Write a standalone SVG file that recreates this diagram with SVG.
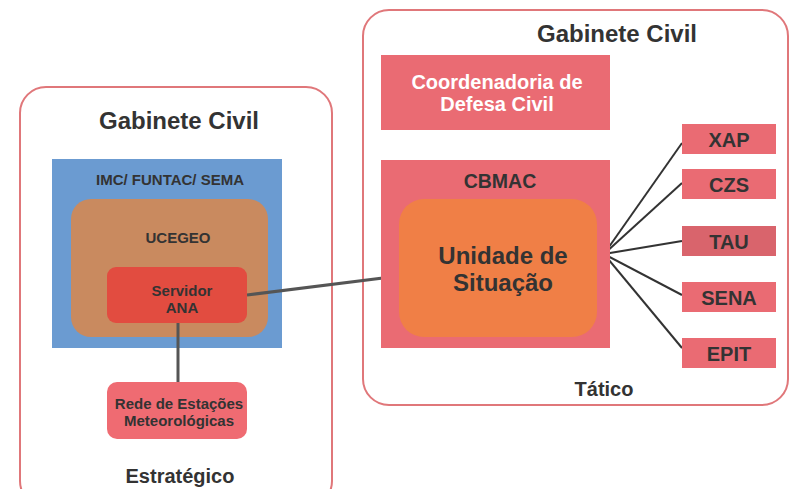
<svg xmlns="http://www.w3.org/2000/svg" width="792" height="489" viewBox="0 0 792 489">
<style>
text{font-family:"Liberation Sans",Arial,sans-serif;font-weight:bold;text-anchor:middle;fill:#333}
.frame{fill:#fff;stroke:#e0777a;stroke-width:2}
.pink{fill:#ea6b73}
.t15{font-size:15px}
.t20{font-size:20px}
.t24{font-size:24px}
.conn{stroke:#333;stroke-width:2;fill:none}
.gray{stroke:#555;stroke-width:3}
</style>
<rect width="792" height="489" fill="#fff"/>
<g id="estrategico">
<rect class="frame" x="20" y="87" width="312" height="420" rx="26"/>
<text class="t24" x="179" y="129">Gabinete Civil</text>
<text class="t20" x="180" y="483">Estratégico</text>
</g>
<g id="tatico">
<rect class="frame" x="363" y="10" width="425" height="395" rx="26"/>
<text class="t24" x="617" y="42">Gabinete Civil</text>
<text class="t20" x="604" y="396">Tático</text>
</g>
<g id="imc">
<rect x="52" y="159" width="230" height="189" fill="#6b9bd1"/>
<text class="t15" x="170" y="185">IMC/ FUNTAC/ SEMA</text>
</g>
<g id="ucegeo">
<rect x="71" y="199" width="197" height="138" rx="20" fill="#c98a5f"/>
<text class="t15" x="178" y="243">UCEGEO</text>
</g>
<g id="connectors">
<line class="conn gray" x1="178" y1="323" x2="178" y2="382"/>
<line class="conn gray" x1="247" y1="295" x2="399" y2="276"/>
<line class="conn" x1="604" y1="254" x2="682" y2="143"/>
<line class="conn" x1="604" y1="254" x2="682" y2="183"/>
<line class="conn" x1="604" y1="254" x2="682" y2="241"/>
<line class="conn" x1="604" y1="254" x2="682" y2="295"/>
<line class="conn" x1="604" y1="254" x2="682" y2="348"/>
</g>
<g id="servidor">
<rect x="107" y="267" width="140" height="56" rx="9" fill="#e24c40"/>
<text class="t15" x="182" y="296">Servidor</text>
<text class="t15" x="182" y="313">ANA</text>
</g>
<g id="rede">
<rect x="107" y="382" width="140" height="57" rx="10" fill="#ef6b72"/>
<text class="t15" x="179" y="409">Rede de Estações</text>
<text class="t15" x="179" y="426">Meteorológicas</text>
</g>
<g id="coordenadoria">
<rect class="pink" x="381" y="55" width="229" height="75"/>
<text class="t20" x="497" y="89" style="fill:#fff">Coordenadoria de</text>
<text class="t20" x="497" y="111" style="fill:#fff">Defesa Civil</text>
</g>
<g id="cbmac">
<rect class="pink" x="381" y="160" width="229" height="188"/>
<text x="500" y="188" style="font-size:19.5px">CBMAC</text>
</g>
<g id="unidade">
<rect x="399" y="199" width="198" height="138" rx="25" fill="#f07f46"/>
<text class="t24" x="503" y="264">Unidade de</text>
<text class="t24" x="503" y="291">Situação</text>
</g>
<g id="xap">
<rect class="pink" x="682" y="124" width="94" height="30"/>
<text class="t20" x="729" y="147">XAP</text>
</g>
<g id="czs">
<rect class="pink" x="682" y="169" width="94" height="30"/>
<text class="t20" x="729" y="192">CZS</text>
</g>
<g id="tau">
<rect x="682" y="226" width="94" height="30" fill="#d9646c"/>
<text class="t20" x="729" y="249">TAU</text>
</g>
<g id="sena">
<rect class="pink" x="682" y="282" width="94" height="30"/>
<text class="t20" x="729" y="305">SENA</text>
</g>
<g id="epit">
<rect class="pink" x="682" y="338" width="94" height="30"/>
<text class="t20" x="729" y="361">EPIT</text>
</g>
</svg>
